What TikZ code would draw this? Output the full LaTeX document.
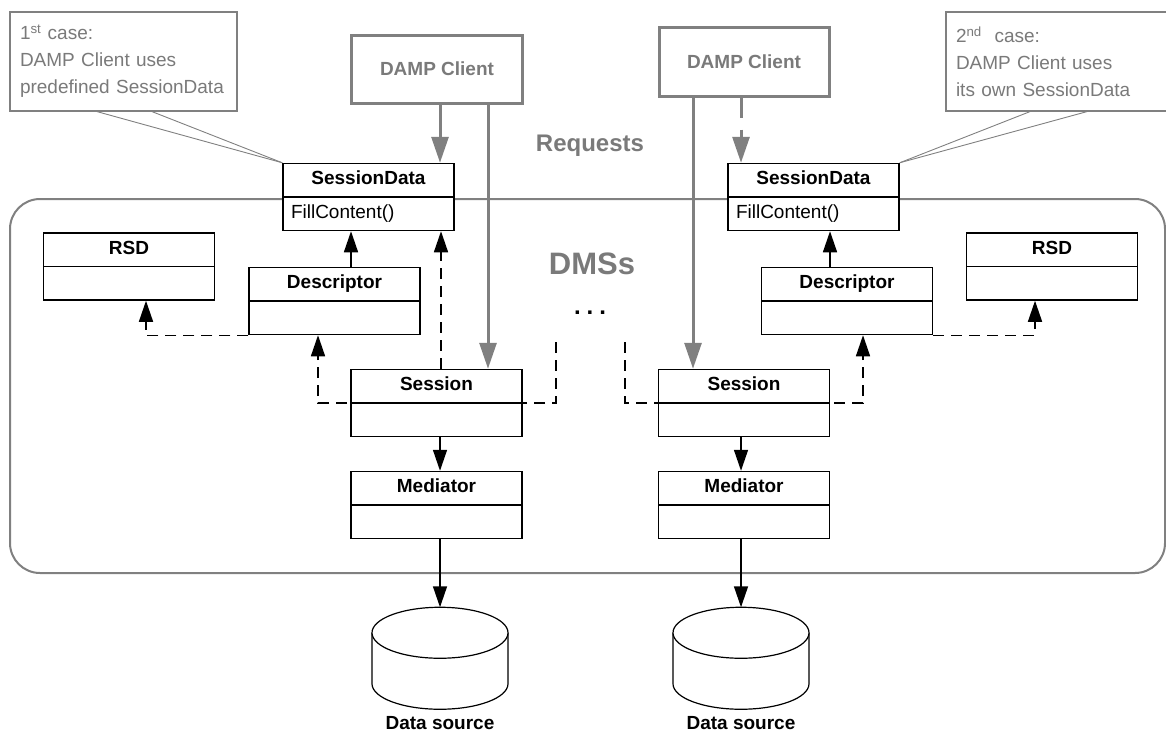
\documentclass[tikz,border=0pt]{standalone}
\usepackage{fontspec}
\setmainfont{Liberation Sans}
\usepackage{xcolor}
\usepackage{tikz}
\usetikzlibrary{shapes.multipart, arrows.meta, positioning}
\definecolor{greyline}{RGB}{128,128,128}
\definecolor{greytext}{RGB}{122,122,122}
\tikzstyle{classbox} = [rectangle split, rectangle split parts=2, draw=black, line width=1.5pt, fill=white, text width=155pt, inner xsep=8pt, inner ysep=4.5pt, align=center, font=\fontsize{19}{23}\selectfont]
\tikzstyle{client} = [rectangle, draw=greyline, line width=3pt, fill=white, minimum width=171pt, minimum height=68pt, text=greytext, font=\fontsize{19}{23}\selectfont\bfseries]
\tikzstyle{note} = [rectangle, draw=greyline, line width=1.2pt, fill=white, minimum height=99pt, inner xsep=10pt, align=left, text=greytext, font=\fontsize{19}{27}\selectfont]
\tikzstyle{container} = [rectangle, draw=greyline, line width=2pt, rounded corners=30pt, minimum width=1155pt, minimum height=374pt]
\tikzstyle{store} = [rectangle, inner sep=0pt, outer sep=0pt, minimum width=136pt, minimum height=102pt]
\tikzstyle{can} = [draw=black, line width=1.2pt, fill=white]
\tikzstyle{arrow} = [line width=1.5pt, -{Triangle[length=21pt, width=14pt]}]
\tikzstyle{deparrow} = [arrow, dash pattern=on 11pt off 7pt]
\tikzstyle{request} = [color=greyline, line width=3pt, -{Triangle[length=26pt, width=17pt]}]
\tikzstyle{pointer} = [draw=greyline, line width=0.9pt]

\begin{document}
\begin{tikzpicture}[x=1pt, y=-1pt]
    \useasboundingbox (0,0) rectangle (1166,734);
    \node (dms) [container] at (587.5,386) {};

    % clients and notes
    \node (dc1) [client] at (437,69) {DAMP Client};
    \node (dc2) [client, minimum width=170pt, minimum height=69pt] at (744,61.5) {DAMP Client};
    \node (case1) [note, text width=207pt] at (123.5,61.5) {1\textsuperscript{st} case:\\DAMP Client uses\\predefined SessionData};
    \node (case2) [note, text width=224pt] at (1068,61.5) {2\textsuperscript{nd}~ case:\\DAMP Client uses\\its own SessionData};
    \node (req) [text=greytext, font=\fontsize{24}{28}\selectfont\bfseries] at (590,146) {Requests};
    \node (title) [text=greytext, font=\fontsize{31}{36}\selectfont\bfseries] at (592,264) {DMSs};
    \node (more) [font=\fontsize{24}{28}\selectfont\bfseries, inner sep=0pt] at (590,313) {.\hspace{6pt}.\hspace{6pt}.};

    % left DMS
    \node (sd1) [classbox] at (368.5,197) {\textbf{\strut SessionData}\nodepart{two}\makebox[155pt][l]{\strut FillContent()}};
    \node (rsd1) [classbox] at (129,266.5) {\textbf{\strut RSD}\nodepart{two}\strut};
    \node (desc1) [classbox] at (334.5,301) {\textbf{\strut Descriptor}\nodepart{two}\strut};
    \node (ses1) [classbox] at (436.5,403) {\textbf{\strut Session}\nodepart{two}\strut};
    \node (med1) [classbox, below=33.5pt of ses1] {\textbf{\strut Mediator}\nodepart{two}\strut};
    \node (ds1) [store, below=68pt of med1, xshift=3.5pt] {};
    \node (lbl1) [below=7pt of ds1, inner sep=0pt, font=\fontsize{19}{23}\selectfont\bfseries] {Data source};

    % right DMS
    \node (sd2) [classbox] at (813.5,197) {\textbf{\strut SessionData}\nodepart{two}\makebox[155pt][l]{\strut FillContent()}};
    \node (rsd2) [classbox] at (1052,266.5) {\textbf{\strut RSD}\nodepart{two}\strut};
    \node (desc2) [classbox] at (847,301) {\textbf{\strut Descriptor}\nodepart{two}\strut};
    \node (ses2) [classbox] at (744,403) {\textbf{\strut Session}\nodepart{two}\strut};
    \node (med2) [classbox, below=33.5pt of ses2] {\textbf{\strut Mediator}\nodepart{two}\strut};
    \node (ds2) [store, below=68pt of med2, xshift=-3pt] {};
    \node (lbl2) [below=7pt of ds2, inner sep=0pt, font=\fontsize{19}{23}\selectfont\bfseries] {Data source};

    % data source cans
    \foreach \d in {ds1,ds2} {
        \draw[can] ([yshift=-25.5pt]\d.north west) -- ([yshift=25.5pt]\d.south west)
            arc[start angle=180, end angle=360, x radius=68pt, y radius=25.5pt]
            -- ([yshift=-25.5pt]\d.north east);
        \draw[can] ([yshift=-25.5pt]\d.north) ellipse[x radius=68pt, y radius=25.5pt];
    }

    % note pointers
    \draw[pointer] ([xshift=-26.5pt]case1.south) -- (sd1.north west);
    \draw[pointer] ([xshift=28.5pt]case1.south) -- (sd1.north west);
    \draw[pointer] ([xshift=-38pt]case2.south) -- (sd2.north east);
    \draw[pointer] ([xshift=19pt]case2.south) -- (sd2.north east);

    % requests
    \coordinate (c1a) at ([xshift=3pt]dc1.south);
    \coordinate (c1b) at ([xshift=51pt]dc1.south);
    \coordinate (c2a) at ([xshift=-51pt]dc2.south);
    \coordinate (c2b) at ([xshift=-3pt]dc2.south);
    \draw[request] (c1a) -- (c1a |- sd1.north);
    \draw[request] (c1b) -- (c1b |- ses1.north);
    \draw[request] (c2a) -- (c2a |- ses2.north);
    \draw[request, dash pattern=on 20pt off 12pt] (c2b) -- (c2b |- sd2.north);

    % associations
    \draw[arrow] ([xshift=16.5pt]desc1.north) -- ([xshift=-17.5pt]sd1.south);
    \draw[arrow] ([xshift=-17pt]desc2.north) -- ([xshift=16.5pt]sd2.south);
    \draw[arrow] ([xshift=3.5pt]ses1.south) -- ([xshift=3.5pt]med1.north);
    \draw[arrow] ([xshift=-3pt]ses2.south) -- ([xshift=-3pt]med2.north);
    \draw[arrow] (med1.south -| ds1.north) -- (ds1.north);
    \draw[arrow] (med2.south -| ds2.north) -- (ds2.north);

    % dependencies
    \coordinate (s1) at ([xshift=4.5pt]ses1.north);
    \coordinate (d1) at ([xshift=-16.5pt]desc1.south);
    \coordinate (d2) at ([xshift=16pt]desc2.south);
    \coordinate (more1) at (556,342);
    \coordinate (more2) at (625,342);
    \draw[deparrow] (s1) -- (s1 |- sd1.south);
    \draw[deparrow] (more1) |- (d1 |- ses1.one split) -- (d1);
    \draw[deparrow] (more2) |- (d2 |- ses2.one split) -- (d2);
    \draw[deparrow] (desc1.south west) -| ([xshift=17pt]rsd1.south);
    \draw[deparrow] (desc2.south east) -| ([xshift=-17pt]rsd2.south);
\end{tikzpicture}
\end{document}
